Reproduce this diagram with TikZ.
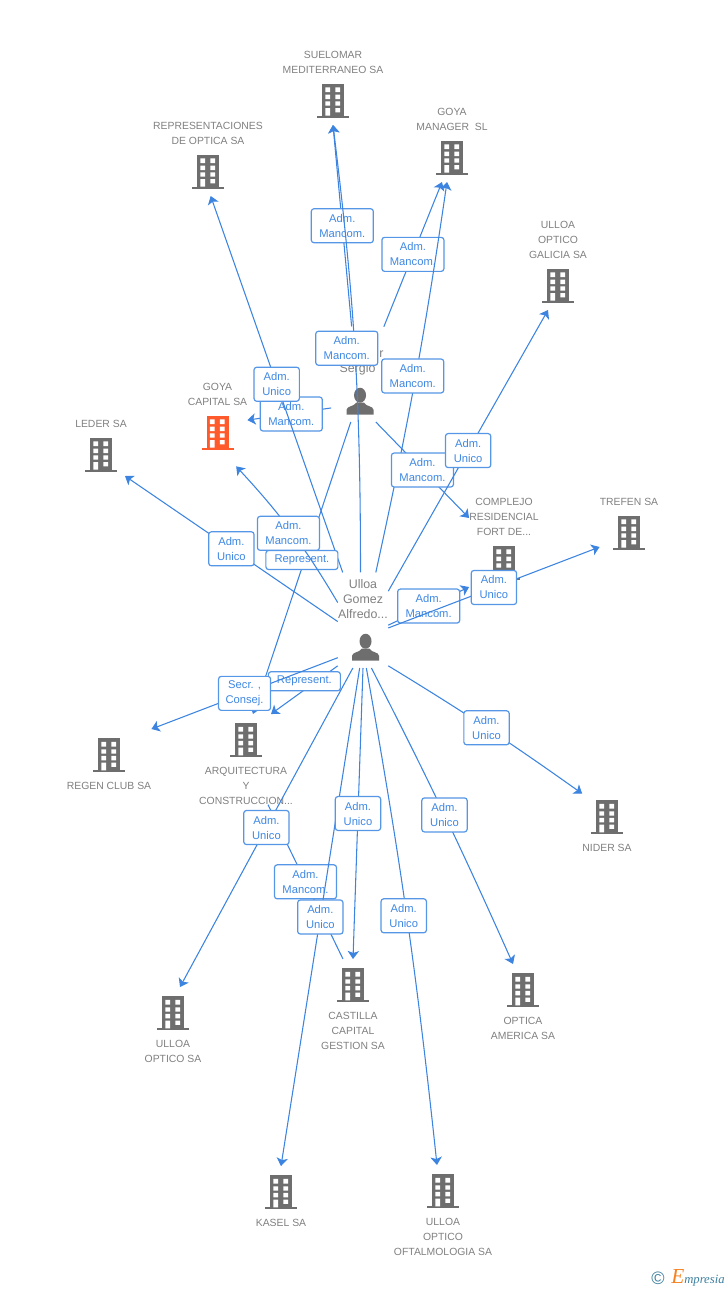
\documentclass[tikz,border=0pt]{standalone}
\usepackage{fontspec}
\setmainfont{Liberation Sans}
\newfontfamily\logofont{Liberation Serif}
\usetikzlibrary{arrows.meta,positioning}

\definecolor{firmgray}{HTML}{6E6E6E}
\definecolor{firmorange}{HTML}{FF5A2B}
\definecolor{firmtext}{HTML}{808080}
\definecolor{linkblue}{HTML}{3C84E0}
\definecolor{boxblue}{HTML}{5596E6}
\definecolor{boxtext}{HTML}{3F88E3}
\definecolor{logoteal}{HTML}{3D7F9F}
\definecolor{logoorange}{HTML}{F58220}

% filas vacias para el icono
\newcommand{\iconup}{\rule[-27pt]{0pt}{27pt}}
\newcommand{\icondown}{\rule{0pt}{33.75pt}}
\newcommand{\iconperson}{\rule[-25.5pt]{0pt}{25.5pt}}
\newcommand{\persontop}{\rule{0pt}{12pt}}

\tikzset{
    building/.pic={
        \fill[#1] (-11,-2) rectangle (11,-34);
        \fill[#1] (-16,0) rectangle (16,-2);
        \fill[white] (-7.7,-30.3) rectangle (-3,-25.7) (2.3,-30.3) rectangle (7,-25.7);
        \fill[white] (-7.7,-23) rectangle (-3,-18.7) (2.3,-23) rectangle (7,-18.7);
        \fill[white] (-7.7,-16.3) rectangle (-3,-12) (2.3,-16.3) rectangle (7,-12);
        \fill[white] (-7.7,-9.7) rectangle (-3,-2) (2.3,-9.7) rectangle (7,-5.3);
    },
    personicon/.pic={
        \fill[firmgray] (-13.5,0) -- (-13.5,-5) .. controls (-13,-9) and (-6,-8) .. (-4,-12)
            -- (4,-12) .. controls (6,-8) and (13,-9) .. (13.5,-5) -- (13.5,0) -- cycle;
        \fill[firmgray] (0,-19.5) ellipse (6 and 7.5);
    },
    firm/.style={align=center, inner sep=0pt, text=firmtext, font=\fontsize{7.8}{11.25}\selectfont},
    firmup/.style={firm, anchor=south, path picture={\pic at ([yshift=5.25pt]path picture bounding box.south) {building=#1};}},
    firmup/.default=firmgray,
    firmdown/.style={firm, anchor=north, path picture={\pic at ([yshift=-32.25pt]path picture bounding box.north) {building=firmgray};}},
    person/.style={align=center, inner sep=0pt, text=firmtext, anchor=south, minimum width=37.5pt,
        font=\fontsize{9.3}{11.25}\selectfont,
        path picture={\pic at ([xshift=1.9pt,yshift=5.25pt]path picture bounding box.south) {personicon};}},
    link/.style={draw=linkblue, line width=0.8pt, -{Stealth[length=6pt,width=8.5pt,inset=1.5pt]}},
    linkplain/.style={draw=linkblue, line width=0.8pt},
    tag/.style={draw=boxblue, line width=0.9pt, rounded corners=2pt, fill=white, text=boxtext, align=center,
        inner sep=0pt, font=\fontsize{8.4}{11.25}\selectfont, minimum height=25.5pt},
    adm/.style={tag, minimum width=34pt},
    admwide/.style={tag, minimum width=46.5pt},
    secr/.style={tag, minimum width=39pt},
    repre/.style={tag, minimum width=54pt, minimum height=14.25pt}
}

\begin{document}
\begin{tikzpicture}[x=0.75pt,y=-0.75pt]
    \useasboundingbox (0,0) rectangle (728,1290);

    % Empresas
    \node (suelomar) at (333,125) [firmup] {SUELOMAR\\MEDITERRANEO SA\\\iconup};
    \node (representaciones) at (208,196) [firmup] {REPRESENTACIONES\\DE OPTICA SA\\\iconup};
    \node (goyamanager) at (452,182) [firmup] {GOYA\\MANAGER\ \ SL\\\iconup};
    \node (galicia) at (558,310) [firmup] {ULLOA\\OPTICO\\GALICIA SA\\\iconup};
    \node (goyacapital) at (217.5,457) [firmup=firmorange] {GOYA\\CAPITAL SA\\\iconup};
    \node (leder) at (101,479) [firmup] {LEDER SA\\\iconup};
    \node (complejo) at (504,587) [firmup] {COMPLEJO\\RESIDENCIAL\\FORT DE...\\\iconup};
    \node (trefen) at (629,557) [firmup] {TREFEN SA\\\iconup};
    \node (regen) at (109,729) [firmdown] {\icondown\\REGEN CLUB SA};
    \node (arquitectura) at (246,714) [firmdown] {\icondown\\ARQUITECTURA\\Y\\CONSTRUCCION...};
    \node (nider) at (607,791) [firmdown] {\icondown\\NIDER SA};
    \node (castilla) at (353,959) [firmdown] {\icondown\\CASTILLA\\CAPITAL\\GESTION SA};
    \node (america) at (523,964) [firmdown] {\icondown\\OPTICA\\AMERICA SA};
    \node (optico) at (173,987) [firmdown] {\icondown\\ULLOA\\OPTICO SA};
    \node (kasel) at (281,1166) [firmdown] {\icondown\\KASEL SA};
    \node (oftalmologia) at (443,1165) [firmdown] {\icondown\\ULLOA\\OPTICO\\OFTALMOLOGIA SA};

    % Personas
    \node (sergio) at (357.5,422) [person, minimum width=38.25pt] {\persontop\\\hspace*{36pt}r\\Sergio\\\iconperson};
    \node (ulloa) at (363,668) [person] {\persontop Ulloa\\Gomez\\Alfredo...\\\iconperson};

    % Cargos
    \draw[link] (sergio.232.3) -- node[admwide, xshift=1.5pt] (t6) {Adm.\\Mancom.} (goyacapital.east);
    \draw[link] (ulloa.113.9) -- node[adm] (t5) {Adm.\\Unico} ([xshift=2pt]representaciones.south);
    \draw[link] (sergio.97.9) -- node[admwide] (t1) {Adm.\\Mancom.} (suelomar.south);
    \draw[link] (ulloa.93.6) to[bend right=3.5] node[admwide, xshift=-6pt] (t3) {Adm.\\Mancom.} (suelomar.south);
    \draw[link] (sergio.61.5) -- node[admwide] (t2) {Adm.\\Mancom.} ([xshift=-7.5pt]goyamanager.south);
    \draw[link] (ulloa.75.8) to[bend right=2] node[admwide, xshift=-2pt, yshift=1.5pt] (t4) {Adm.\\Mancom.} ([xshift=-3.75pt]goyamanager.south);
    \draw[link] (sergio.291.5) -- node[admwide] (t8) {Adm.\\Mancom.} ([yshift=51.75pt]complejo.south west);
    \draw[link] (ulloa.49.7) -- node[adm] (t7) {Adm.\\Unico} ([xshift=-7.5pt]galicia.south);
    \draw[link] (sergio.262.1) -- node[repre, yshift=6pt] (t10) {Represent.} ([xshift=5.25pt]arquitectura.north);
    \draw[link] (ulloa.145) to[bend right=6] node[admwide, xshift=-2pt, yshift=-1.5pt] (t9) {Adm.\\Mancom.} ([xshift=14pt,yshift=-7pt]goyacapital.south);
    \draw[link] (ulloa.183.4) -- node[adm] (t11) {Adm.\\Unico} ([xshift=18pt,yshift=2.25pt]leder.south);
    \draw[link] (ulloa.349.8) -- node[admwide] (t12) {Adm.\\Mancom.} (complejo.south west);
    \draw[link] (ulloa.343.3) -- node[adm] (t13) {Adm.\\Unico} ([yshift=7.5pt]trefen.south west);
    \draw[link] (ulloa.241.7) -- node[repre, yshift=6.5pt] (t15) {Represent.} ([xshift=18.75pt]arquitectura.north);
    \draw[link] (ulloa.236.3) -- node[secr] (t14) {Secr. ,\\Consej.} (regen.north east);
    \draw[link] (ulloa.299.3) to[bend left=2] node[adm] (t16) {Adm.\\Unico} ([yshift=-2pt]nider.north west);
    \draw[linkplain] ([xshift=16.5pt]arquitectura.south) -- node[admwide] (t20) {Adm.\\Mancom.} ([xshift=-7.5pt]castilla.north);
    \draw[link] (ulloa.266.4) -- node[adm] (t21) {Adm.\\Unico} (kasel.north);
    \draw[link] (ulloa.270) -- node[adm] (t18) {Adm.\\Unico} (castilla.north);
    \draw[link] (ulloa.258) -- node[adm] (t17) {Adm.\\Unico} ([xshift=5.25pt]optico.north);
    \draw[link] (ulloa.280.7) to[bend left=1.5] node[adm] (t19) {Adm.\\Unico} ([xshift=-7.5pt]america.north);
    \draw[link] (ulloa.274.8) to[bend left=2] node[adm, xshift=-2.25pt] (t22) {Adm.\\Unico} ([xshift=-4.5pt]oftalmologia.north);

    % Marca
    \node (copyright) at (658,1278) [inner sep=0pt, text=logoteal, font=\fontsize{13.5}{14}\selectfont] {\textcopyright};
    \node (empresia) at (671,1278) [anchor=west, inner sep=0pt, font=\logofont\itshape\fontsize{9.5}{12}\selectfont, text=logoteal]
        {\textcolor{logoorange}{\fontsize{16}{16}\selectfont E}mpresia};
\end{tikzpicture}
\end{document}
